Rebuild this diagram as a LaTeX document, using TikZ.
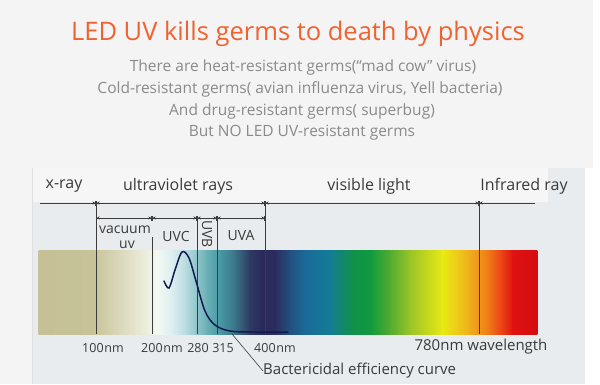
\documentclass[tikz,border=0pt]{standalone}
\usepackage{fontspec}
\setmainfont{Open Sans}
\usetikzlibrary{arrows.meta,positioning,calc}
\definecolor{titleColor}{HTML}{F0622F}
\definecolor{subColor}{HTML}{8A8A8A}
\definecolor{labelColor}{HTML}{3A3A3A}
\definecolor{lineColor}{HTML}{3C3C3C}
\definecolor{pageColor}{HTML}{F4F4F4}
\definecolor{stripColor}{HTML}{F6F6F6}
\definecolor{panelColor}{HTML}{E9ECEE}
\definecolor{curveColor}{HTML}{121A50}

\begin{document}
\begin{tikzpicture}[x=1pt, y=-1pt,
    >=Stealth,
    dim/.style={lineColor, line width=0.6pt, {Bar[width=5pt]Stealth[length=3pt,width=3.2pt]}-{Stealth[length=3pt,width=3.2pt]Bar[width=5pt]}},
    dimend/.style={lineColor, line width=0.6pt, -{Stealth[length=3pt,width=3.2pt]Bar[width=5pt]}},
    dimstart/.style={lineColor, line width=0.6pt, {Bar[width=5pt]Stealth[length=3pt,width=3.2pt]}-},
    divider/.style={lineColor, line width=0.6pt},
    heading/.style={font=\fontsize{25.5}{30}\selectfont, text=titleColor, inner sep=0pt},
    subline/.style={font=\fontsize{15.5}{18}\selectfont, text=subColor, inner sep=0pt},
    region/.style={font=\fontsize{16}{19}\selectfont, text=labelColor, inner sep=0pt},
    band/.style={font=\fontsize{14}{16}\selectfont, text=labelColor, inner sep=0pt},
    nmlabel/.style={font=\fontsize{12.5}{15}\selectfont, text=labelColor, inner sep=0pt},
    note/.style={font=\fontsize{15}{18}\selectfont, text=labelColor, inner sep=0pt},
  ]

  % Background
  \useasboundingbox (0,0) rectangle (600,384);
  \fill[white] (0,0) rectangle (600,384);
  \fill[pageColor] (0,0) rectangle (593,168);
  \fill[pageColor] (0,168) rectangle (32,384);
  \fill[panelColor] (32,168) rectangle (585,384);
  \fill[stripColor] (32,168) rectangle (548,202);
  \draw[black!12, line width=0.5pt] (32,168) -- (32,384);

  % Heading
  \node[heading] (title) at (298,34) {LED UV kills germs to death by physics};
  \node[subline] (sub1) at (303,67)  {There are heat-resistant germs(“mad cow” virus)};
  \node[subline] (sub2) at (300,89)  {Cold-resistant germs( avian influenza virus, Yell bacteria)};
  \node[subline] (sub3) at (302,111) {And drug-resistant germs( superbug)};
  \node[subline] (sub4) at (302,133) {But NO LED UV-resistant germs};

  % Spectrum bar
  \foreach \xa/\ca/\xb/\cb in {
      39/C5C096/96/C7C399, 96/C9C59C/150/EFF1E2, 150/EFF1E2/157/F5F8F2,
      157/F5F8F2/172/DCEEEF, 172/DCEEEF/186/B6DCE0, 186/B6DCE0/197/8EC4CA,
      197/8EC4CA/208/66AEB4, 208/66AEB4/220/4898A4, 220/4898A4/235/3A7488,
      235/3A7488/250/2E3A62, 250/2E3A62/262/2A2A5A, 262/2A2A5A/275/2C2C5E,
      275/2C2C5E/290/22507E, 290/22507E/305/1B6A9A, 305/1B6A9A/330/147C96,
      330/147C96/352/11904C, 352/11904C/370/109A3E, 370/109A3E/390/52AC30,
      390/52AC30/410/9AC428, 410/9AC428/443/E8EA12, 443/E8EA12/467/F0B41E,
      467/F0B41E/487/F07E18, 487/F07E18/500/EC4A16, 500/EC4A16/513/E01212,
      513/E01212/537/D40C10}
  {
    \definecolor{segA}{HTML}{\ca}
    \definecolor{segB}{HTML}{\cb}
    \fill[left color=segA, right color=segB] (\xa-0.3,250) rectangle (\xb+0.3,334);
  }

  % Division points
  \coordinate (axStart) at (40,203);
  \coordinate (axX)     at (96,203);
  \coordinate (axUV)    at (265,203);
  \coordinate (axIR)    at (479,203);
  \coordinate (axEnd)   at (535,203);
  \coordinate (r100) at (96,218);
  \coordinate (r200) at (152,218);
  \coordinate (r280) at (197,218);
  \coordinate (r315) at (217,218);
  \coordinate (r400) at (265,218);
  \coordinate (v200) at (152,237);
  \coordinate (b100) at (96,334);
  \coordinate (b200) at (152,334);
  \coordinate (b280) at (197,334);
  \coordinate (b315) at (217,334);
  \coordinate (b400) at (265,334);
  \coordinate (bIR)  at (479,334);

  % Region axis
  \draw[dimend]   (axStart) -- (axX);
  \draw[dim]      (axX) -- (axUV);
  \draw[dim]      (axUV) -- (axIR);
  \draw[dimstart] (axIR) -- (axEnd);

  % UV sub-bands
  \draw[dim] (r100) -- (r200);
  \draw[dim] (r200) -- (r280);
  \draw[dim] (r280) -- (r315);
  \draw[dim] (r315) -- (r400);

  % Dividers
  \draw[divider] (axX) -- (b100);
  \draw[divider] (v200) -- (b200);
  \draw[divider] (r280) -- (b280);
  \draw[divider] (r315) -- (b315);
  \draw[divider] (axUV) -- (b400);
  \draw[divider] (axIR) -- (bIR);

  % Region labels
  \node[region] (xray)    at (64,186)  {x-ray};
  \node[region] (uvrays)  at (178,186) {ultraviolet rays};
  \node[region] (visible) at (369,186) {visible light};
  \node[region] (infra)   at (524,186) {Infrared ray};

  % Band labels
  \node[band] (vacuum) at (125,230) {vacuum};
  \node[band] (vacuv)  at (127,245) {uv};
  \node[band] (uvc) at (176,236) {UVC};
  \node[band, rotate=-90] (uvb) at (207,234) {UVB};
  \node[band] (uva) at (241,236) {UVA};

  % Wavelength scale
  \node[nmlabel] (nm100) at (103,348) {100\kern0.8pt nm};
  \node[nmlabel] (nm200) at (162,348) {200\kern0.8pt nm};
  \node[nmlabel] (nm280) at (198,348) {280};
  \node[nmlabel] (nm315) at (223,348) {315};
  \node[nmlabel] (nm400) at (275,348) {400\kern0.8pt nm};
  \node[note] (nm780) at (481,347) {780nm wavelength};

  % Bactericidal curve
  \coordinate (callA) at (232,334);
  \draw[curveColor, line width=1.5pt, line cap=round]
    plot[smooth, tension=0.55] coordinates {(164,281) (169,288) (175,270) (182,252)
      (189,258) (196,281) (205,311) (215,325) (230,331) (255,332) (288,332)};
  \node[note, anchor=west] (curveNote) at (263,371) {Bactericidal efficiency curve};
  \draw[lineColor, line width=0.6pt] (callA) -- (curveNote.west);

\end{tikzpicture}
\end{document}
